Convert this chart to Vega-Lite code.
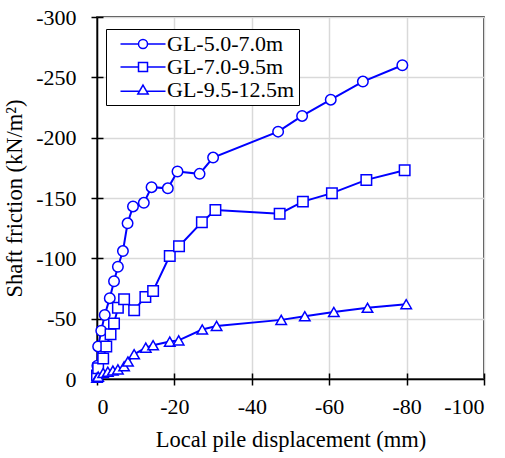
{
  "$schema": "https://vega.github.io/schema/vega-lite/v6.json",
  "autosize": "none",
  "width": 387,
  "height": 362,
  "padding": {"left": 97, "top": 17, "right": 21, "bottom": 79},
  "background": "white",
  "config": {
    "font": "Liberation Serif",
    "view": {"stroke": "black", "strokeWidth": 1.5},
    "axis": {
      "labelFont": "Liberation Serif",
      "titleFont": "Liberation Serif",
      "labelFontSize": 22,
      "titleFontSize": 22.5,
      "titleFontWeight": "normal",
      "labelColor": "black",
      "titleColor": "black",
      "domainColor": "black",
      "domainWidth": 1.5,
      "tickColor": "black",
      "tickWidth": 1.5,
      "tickSize": 6,
      "gridColor": "#d9d9d9",
      "gridWidth": 1.5
    },
    "legend": {"labelFont": "Liberation Serif"}
  },
  "data": {
    "values": [
      {"series": "GL-5.0-7.0m", "disp": 0, "friction": -3},
      {"series": "GL-5.0-7.0m", "disp": -0.1, "friction": -11},
      {"series": "GL-5.0-7.0m", "disp": -0.3, "friction": -27},
      {"series": "GL-5.0-7.0m", "disp": -1.1, "friction": -40},
      {"series": "GL-5.0-7.0m", "disp": -2.0, "friction": -53},
      {"series": "GL-5.0-7.0m", "disp": -3.3, "friction": -67},
      {"series": "GL-5.0-7.0m", "disp": -4.4, "friction": -81},
      {"series": "GL-5.0-7.0m", "disp": -5.4, "friction": -93},
      {"series": "GL-5.0-7.0m", "disp": -6.7, "friction": -106},
      {"series": "GL-5.0-7.0m", "disp": -7.9, "friction": -129},
      {"series": "GL-5.0-7.0m", "disp": -9.3, "friction": -143},
      {"series": "GL-5.0-7.0m", "disp": -12.1, "friction": -146},
      {"series": "GL-5.0-7.0m", "disp": -14.1, "friction": -159},
      {"series": "GL-5.0-7.0m", "disp": -18.3, "friction": -158},
      {"series": "GL-5.0-7.0m", "disp": -20.8, "friction": -172},
      {"series": "GL-5.0-7.0m", "disp": -26.5, "friction": -170},
      {"series": "GL-5.0-7.0m", "disp": -30.0, "friction": -183.5},
      {"series": "GL-5.0-7.0m", "disp": -46.8, "friction": -205},
      {"series": "GL-5.0-7.0m", "disp": -53.0, "friction": -218},
      {"series": "GL-5.0-7.0m", "disp": -60.4, "friction": -231.5},
      {"series": "GL-5.0-7.0m", "disp": -68.7, "friction": -246.5},
      {"series": "GL-5.0-7.0m", "disp": -78.9, "friction": -260},
      {"series": "GL-7.0-9.5m", "disp": 0, "friction": -3},
      {"series": "GL-7.0-9.5m", "disp": -0.3, "friction": -9},
      {"series": "GL-7.0-9.5m", "disp": -1.6, "friction": -17},
      {"series": "GL-7.0-9.5m", "disp": -2.4, "friction": -27},
      {"series": "GL-7.0-9.5m", "disp": -3.5, "friction": -37},
      {"series": "GL-7.0-9.5m", "disp": -4.4, "friction": -46},
      {"series": "GL-7.0-9.5m", "disp": -5.4, "friction": -59},
      {"series": "GL-7.0-9.5m", "disp": -7.0, "friction": -66},
      {"series": "GL-7.0-9.5m", "disp": -9.6, "friction": -57},
      {"series": "GL-7.0-9.5m", "disp": -12.5, "friction": -68},
      {"series": "GL-7.0-9.5m", "disp": -14.5, "friction": -73},
      {"series": "GL-7.0-9.5m", "disp": -18.8, "friction": -102},
      {"series": "GL-7.0-9.5m", "disp": -21.2, "friction": -110},
      {"series": "GL-7.0-9.5m", "disp": -27.1, "friction": -130},
      {"series": "GL-7.0-9.5m", "disp": -30.6, "friction": -140},
      {"series": "GL-7.0-9.5m", "disp": -47.2, "friction": -137},
      {"series": "GL-7.0-9.5m", "disp": -53.2, "friction": -147},
      {"series": "GL-7.0-9.5m", "disp": -60.7, "friction": -154},
      {"series": "GL-7.0-9.5m", "disp": -69.6, "friction": -165},
      {"series": "GL-7.0-9.5m", "disp": -79.5, "friction": -173},
      {"series": "GL-9.5-12.5m", "disp": 0, "friction": -1},
      {"series": "GL-9.5-12.5m", "disp": -0.3, "friction": -2},
      {"series": "GL-9.5-12.5m", "disp": -1.6, "friction": -5},
      {"series": "GL-9.5-12.5m", "disp": -2.8, "friction": -6},
      {"series": "GL-9.5-12.5m", "disp": -4.1, "friction": -7},
      {"series": "GL-9.5-12.5m", "disp": -5.4, "friction": -8},
      {"series": "GL-9.5-12.5m", "disp": -7.0, "friction": -10.5},
      {"series": "GL-9.5-12.5m", "disp": -8.0, "friction": -14.5},
      {"series": "GL-9.5-12.5m", "disp": -9.6, "friction": -20.5},
      {"series": "GL-9.5-12.5m", "disp": -12.6, "friction": -26},
      {"series": "GL-9.5-12.5m", "disp": -14.5, "friction": -28},
      {"series": "GL-9.5-12.5m", "disp": -18.8, "friction": -31},
      {"series": "GL-9.5-12.5m", "disp": -21.1, "friction": -32},
      {"series": "GL-9.5-12.5m", "disp": -27.2, "friction": -41},
      {"series": "GL-9.5-12.5m", "disp": -30.9, "friction": -44},
      {"series": "GL-9.5-12.5m", "disp": -47.6, "friction": -49},
      {"series": "GL-9.5-12.5m", "disp": -53.7, "friction": -52},
      {"series": "GL-9.5-12.5m", "disp": -61.2, "friction": -55.5},
      {"series": "GL-9.5-12.5m", "disp": -69.9, "friction": -59},
      {"series": "GL-9.5-12.5m", "disp": -79.9, "friction": -62}
    ]
  },
  "resolve": {
    "scale": {"shape": "independent"},
    "legend": {"shape": "independent"},
    "axis": {"x": "independent", "y": "independent"}
  },
  "layer": [
    {
      "mark": {"type": "line", "color": "#0000ff", "strokeWidth": 2},
      "encoding": {
        "x": {
          "field": "disp",
          "type": "quantitative",
          "scale": {"domain": [0, -100], "nice": false, "zero": false},
          "axis": {
            "orient": "bottom",
            "title": "Local pile displacement (mm)",
            "values": [0, -20, -40, -60, -80, -100],
            "labelExpr": "'' + datum.value",
            "labelPadding": 11,
            "titlePadding": 11
          }
        },
        "y": {
          "field": "friction",
          "type": "quantitative",
          "scale": {"domain": [0, -300], "nice": false, "zero": false},
          "axis": {
            "orient": "left",
            "title": "Shaft friction (kN/m²)",
            "values": [0, -50, -100, -150, -200, -250, -300],
            "labelExpr": "'' + datum.value",
            "labelPadding": 15,
            "titlePadding": 9
          }
        },
        "detail": {"field": "series"}
      }
    },
    {
      "mark": {"type": "point", "filled": false, "fill": "white", "stroke": "#0000ff", "strokeWidth": 1.5, "opacity": 1, "size": 110},
      "encoding": {
        "x": {"field": "disp", "type": "quantitative", "axis": null},
        "y": {"field": "friction", "type": "quantitative", "axis": null},
        "shape": {
          "field": "series",
          "type": "nominal",
          "scale": {"domain": ["GL-5.0-7.0m", "GL-7.0-9.5m", "GL-9.5-12.5m"], "range": ["circle", "square", "triangle-up"]},
          "legend": null
        }
      }
    },
    {
      "transform": [{"filter": "false"}],
      "mark": {"type": "point", "filled": false, "stroke": "#0000ff", "strokeWidth": 1.5, "opacity": 1},
      "encoding": {
        "x": {
          "field": "disp",
          "type": "quantitative",
          "axis": {"orient": "bottom", "values": [0, -20, -40, -60, -80, -100], "tickSize": -6, "labels": false, "domain": false, "grid": false, "title": null}
        },
        "y": {
          "field": "friction",
          "type": "quantitative",
          "axis": {"orient": "left", "values": [0, -50, -100, -150, -200, -250, -300], "tickSize": -6, "labels": false, "domain": false, "grid": false, "title": null}
        },
        "shape": {
          "field": "series",
          "type": "nominal",
          "scale": {
            "domain": ["GL-5.0-7.0m", "GL-7.0-9.5m", "GL-9.5-12.5m"],
            "range": [
              "M-5,0L-1,0M1,0L5,0M-1,0A1,1,0,1,1,1,0A1,1,0,1,1,-1,0",
              "M-5,0L-1,0M1,0L5,0M-1,-1L1,-1L1,1L-1,1Z",
              "M-5,0.3L-0.8,0.3M0.8,0.3L5,0.3M0,-1.1L1.15,0.9L-1.15,0.9Z"
            ]
          },
          "legend": {
            "title": null,
            "orient": "none",
            "legendX": 9,
            "legendY": 12,
            "strokeColor": "black",
            "fillColor": "white",
            "padding": 4,
            "labelFont": "Liberation Serif",
            "labelFontSize": 22,
            "labelColor": "black",
            "symbolSize": 81,
            "symbolStrokeWidth": 1.5,
            "symbolStrokeColor": "#0000ff",
            "symbolOffset": 22,
            "labelOffset": 13,
            "rowPadding": 1
          }
        }
      }
    }
  ]
}
